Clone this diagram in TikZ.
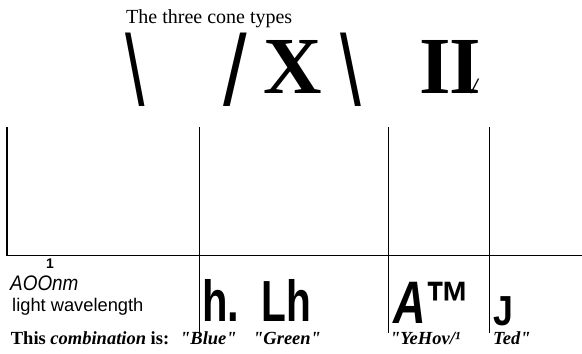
\documentclass[tikz,border=0pt]{standalone}
\usepackage{fontspec}
\usepackage{graphicx}
\setmainfont{Liberation Serif}
\newfontfamily\arialfont{Liberation Sans}
\usetikzlibrary{positioning}
\tikzset{
  lbl/.style={inner sep=0pt,anchor=base west,font=\fontsize{18.5}{20}\selectfont},
  boldlbl/.style={lbl,font=\fontsize{18.5}{20}\selectfont\bfseries},
  quotelbl/.style={lbl,font=\fontsize{18.5}{20}\selectfont\bfseries\itshape},
  sanslbl/.style={lbl,font=\arialfont\fontsize{18.3}{20}\selectfont},
  glyph/.style={inner sep=0pt,anchor=south,font=\arialfont\fontsize{100}{100}\selectfont},
  bigserif/.style={inner sep=0pt,anchor=base,font=\fontsize{81}{81}\selectfont\bfseries},
  bigsans/.style={inner sep=0pt,anchor=base,font=\arialfont\bfseries},
  divider/.style={line width=1.2pt,draw=black},
}
\newcommand{\narrow}[2]{\scalebox{#1}[1]{#2}}
\newcommand{\qq}{\textquotedbl}

\begin{document}
\begin{tikzpicture}[x=1pt,y=-1pt]
\useasboundingbox (0,0) rectangle (582,354);

% title and the cone glyphs
\node[lbl,font=\fontsize{20}{22}\selectfont] (title) at (126,23) {The three cone types};
\node[glyph] (back1) at (135,107) {\narrow{0.7}{\textbackslash}};
\node[glyph] (slash) at (235,107) {\narrow{0.85}{/}};
\node[bigserif] (cross) at (292.3,93.3) {X};
\node[glyph] (back2) at (350.8,107) {\narrow{0.75}{\textbackslash}};
\node[bigserif] (pair) at (448.7,93.3) {I\kern-2ptI\kern-9pt{\fontsize{22}{22}\selectfont\itshape /}};

% frame
\coordinate (topleft) at (7,127);
\coordinate (baseleft) at (7,255.5);
\coordinate (baseright) at (582,255.5);
\coordinate (blueTop) at (199.3,127);
\coordinate (blueEnd) at (199.3,333);
\coordinate (yellowTop) at (388.3,127);
\coordinate (yellowEnd) at (388.3,333);
\coordinate (redTop) at (489.3,127);
\coordinate (redEnd) at (489.3,333);
\draw[divider] (topleft) -- (baseleft) -- (baseright);
\draw[divider] (blueTop) -- (blueEnd);
\draw[divider] (yellowTop) -- (yellowEnd);
\draw[divider] (redTop) -- (redEnd);

% wavelength legend
\node[lbl,font=\arialfont\bfseries\fontsize{14}{15}\selectfont] (one) at (46,268) {1};
\node[lbl,font=\arialfont\itshape\fontsize{21}{22}\selectfont] (nm) at (10,290) {\narrow{0.9}{AOOnm}};
\node[sanslbl] (wave) at (12,311.7) {light wavelength};

% big response glyphs
\node[bigsans,font=\arialfont\bfseries\fontsize{58}{58}\selectfont] (hdot) at (221,321.7) {\narrow{0.72}{h.}};
\node[bigsans,font=\arialfont\bfseries\fontsize{58}{58}\selectfont] (lh) at (286,321.7) {\narrow{0.7}{Lh}};
\node[bigsans,font=\arialfont\bfseries\fontsize{60}{60}\selectfont] (atm) at (432,323) {\narrow{0.75}{\textit{A}™}};
\node[bigsans,font=\arialfont\bfseries\fontsize{42}{42}\selectfont] (jay) at (503,325) {\narrow{0.85}{J}};

% combination labels
\node[boldlbl] (this) at (10.7,344) {This \textit{combination} is:};
\node[quotelbl] (blue) at (180,344) {\qq Blue\qq};
\node[quotelbl] (green) at (253,344) {\qq Green\qq};
\node[quotelbl] (yellow) at (390,344) {\qq YeHov/¹};
\node[quotelbl] (red) at (493,344) {Ted\qq};

\end{tikzpicture}
\end{document}
